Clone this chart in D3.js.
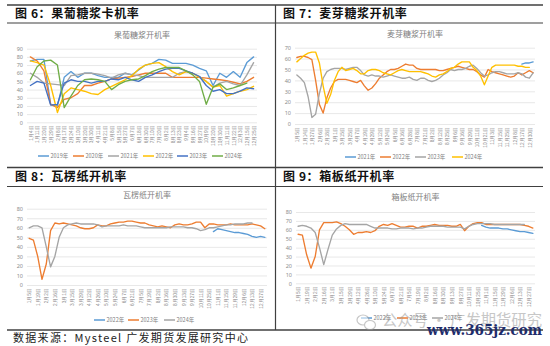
<!DOCTYPE html>
<html>
<head>
<meta charset="utf-8">
<script src="https://cdn.jsdelivr.net/npm/d3@7/dist/d3.min.js"></script>
<style>
  html, body { margin: 0; padding: 0; background: #fff; }
  svg { display: block; font-family: "Noto Sans CJK SC", "Noto Sans", sans-serif; }
</style>
</head>
<body>
<svg id="page" width="550" height="346"></svg>
<script>
// ---------- 果葡糖浆开机率 (%) ----------
const hfcsLabels = ["1月4日","1月11日","1月20日","1月29日","2月8日","2月17日","2月24日","3月10日","3月20日","3月30日","4月11日","4月21日","5月8日","5月15日","5月27日","6月7日","6月18日","6月30日","7月10日","7月20日","8月2日","8月13日","8月23日","9月4日","9月16日","9月27日","10月9日","10月20日","10月30日","11月11日","11月22日","12月3日","12月15日","12月25日"];
const hfcs2019 = [75,77,77,22,20,55,62,55,60,60,57,55,55,55,60,58,64,70,72,77,76,72,72,72,70,66,63,45,60,55,62,55,73,80];
const hfcs2020 = [80,75,63,22,18,28,30,35,45,45,48,50,53,54,55,56,58,60,60,60,60,55,55,55,55,55,54,53,52,51,49,47,50,55];
const hfcs2021 = [60,55,48,47,46,45,57,58,60,60,59,57,54,58,60,58,57,55,55,55,55,55,60,62,60,56,50,43,48,50,47,45,58,73];
const hfcs2022 = [75,73,70,45,12,35,42,40,38,35,34,40,44,48,52,57,65,70,72,73,68,62,58,62,60,55,50,43,45,32,35,38,40,44];
const hfcs2023 = [45,50,48,21,22,48,52,50,50,48,50,50,53,52,55,52,50,55,58,62,65,66,66,63,60,56,45,38,40,35,35,38,42,41];
const hfcs2024 = [52,68,75,76,70,18,32,45,52,53,52,50,40,46,50,52,53,57,62,65,67,67,67,63,58,50,22,43,47,40,42,45,48,null];
const hfcsTicks = [0,10,20,30,40,50,60,70,80,90];

// ---------- 麦芽糖浆开机率 (%) ----------
const maltoseLabels = ["1月5日","1月14日","1月27日","2月6日","2月18日","3月1日","3月15日","3月25日","4月7日","4月19日","4月29日","5月12日","5月24日","6月5日","6月16日","6月28日","7月8日","7月21日","8月2日","8月12日","8月25日","9月6日","9月16日","9月29日","10月11日","10月21日","11月3日","11月15日","11月25日","12月8日","12月17日","12月30日"];
const maltose2021 = [null,null,null,null,null,null,null,null,null,null,
  null,null,null,null,null,null,null,null,null,null,
  null,null,null,null,null,null,null,null,null,null,
  null,null,null,null,null,null,null,null,null,null,
  null,null,null,null,null,null,null,null,null,null,
  null,null,null,null,null,null,null,null,null,null,
  55,56,56,57];
const maltose2022 = [61,62,62,61,59,40,18,10,24,33, 39,41,41,41,40,39,38,40,35,31, 33,37,42,45,48,50,50,51,53,55, 54,54,51,50,50,50,50,50,49,49, 50,51,52,53,52,51,50,50,48,45, 43,50,48,47,46,45,44,43,44,47, 45,47,49,47];
const maltose2023 = [45,42,38,25,6,9,28,42,48,50, 51,51,51,50,51,52,52,49,45,44, 45,44,44,43,44,45,44,43,42,42, 43,41,40,42,42,40,39,40,42,45, 47,50,49,50,50,51,53,54,51,47, 44,45,47,48,48,47,46,46,46,47, 46,43,42,47];
const maltose2024 = [57,60,63,65,66,66,56,35,19,27, 40,48,52,49,50,51,49,46,46,49, 50,50,49,47,46,45,47,49,50,49, 48,48,48,48,47,46,44,43,45,46, 48,51,52,55,57,57,57,52,49,44, 36,44,52,54,54,54,54,54,54,53, 53,52,52,null];
const maltoseTicks = [0,10,20,30,40,50,60,70];

// ---------- 瓦楞纸 / 箱板纸开机率 (%) ----------
const paperLabels = ["1月5日","1月19日","2月2日","2月16日","3月1日","3月15日","3月29日","4月12日","4月26日","5月10日","5月24日","6月7日","6月21日","7月5日","7月19日","8月2日","8月16日","8月30日","9月13日","9月27日","10月11日","10月25日","11月1日","11月15日","11月29日","12月6日","12月13日","12月27日"];
const corrugated2022 = [null,null,null,null,null,null,null,null,null,null,
  null,null,null,null,null,null,null,null,null,null,
  null,null,null,null,null,null,null,null,null,null,
  null,null,null,null,null,null,null,null,null,null,
  null,null,null,
  56,59,58,57,56,55,55,54,53,51,50,51,50];
const corrugated2023 = [49,47,30,6,22,57,65,64,65,64, 63,62,60,59,59,60,63,62,62,64, 65,66,66,67,67,66,65,65,63,62, 61,62,61,60,63,64,63,63,64,66, 66,60,64,64,63,63,63,64,63,63, 63,63,64,63,62,59];
const corrugated2024 = [60,62,62,60,40,19,30,50,60,63, 64,65,64,64,64,64,63,61,62,62, 62,62,63,62,62,62,61,60,60,60, 60,60,60,61,61,61,61,60,60,59, 57,58,60,60,61,62,63,63,64,64, 64,65,65,null,null,null];
const board2022 = [null,null,null,null,null,null,null,null,null,null,
  null,null,null,null,null,null,null,null,null,null,
  null,null,null,null,null,null,null,null,null,null,
  null,null,null,null,null,null,null,null,null,null,
  null,null,null,
  65,63,62,62,62,61,61,60,59,58,58,57,56];
const board2023 = [55,54,32,17,30,60,68,68,68,69, 67,64,60,55,57,57,58,57,59,64, 66,65,67,65,63,63,64,64,62,64, 64,65,66,65,65,65,64,64,66,59, 64,67,68,68,66,66,66,66,66,66, 66,66,66,65,64,62];
const board2024 = [64,65,64,62,57,40,21,38,54,61, 65,67,66,66,66,66,66,64,62,62, 62,62,61,61,62,62,62,61,62,62, 63,64,64,64,64,63,63,63,63,61, 64,66,67,67,67,67,66,66,66,66, 66,66,66,66,null,null];
const paperTicks = [0,10,20,30,40,50,60,70,80];

const C = {
  blue: "#5B9BD5", orange: "#ED7D31", gray: "#A5A5A5",
  yellow: "#FFC000", navy: "#4472C4", green: "#70AD47"
};

const svg = d3.select("#page");
svg.append("rect").attr("width", 550).attr("height", 346).attr("fill", "#fff");

// panel frame rules
const frame = svg.append("g").attr("stroke", "#404040").attr("fill", "none");
[[5, 1.6], [23, 1.2], [167.5, 1.6], [186.5, 1.2], [330, 1.6]].forEach(([y, w]) => {
  frame.append("line").attr("x1", 7).attr("x2", 543).attr("y1", y).attr("y2", y).attr("stroke-width", w);
});
frame.append("line").attr("x1", 275.5).attr("x2", 275.5).attr("y1", 5).attr("y2", 330).attr("stroke-width", 1.2);

function drawPanel(cfg) {
  const g = svg.append("g");

  // figure heading
  g.append("text")
    .attr("x", cfg.headX).attr("y", cfg.headY)
    .attr("dominant-baseline", "middle")
    .attr("font-size", 12).attr("font-weight", 700)
    .attr("letter-spacing", 0.6)
    .attr("fill", "#111")
    .text(cfg.heading);

  // chart title
  g.append("text")
    .attr("x", (cfg.x0 + cfg.x1) / 2).attr("y", cfg.titleY)
    .attr("text-anchor", "middle").attr("dominant-baseline", "middle")
    .attr("font-size", 8).attr("fill", "#7f7f7f")
    .text(cfg.title);

  const n = cfg.series[0].values.length;
  const x = d3.scalePoint().domain(d3.range(n)).range([cfg.x0, cfg.x1]).padding(0.5);
  const y = d3.scaleLinear().domain([0, cfg.yMax]).range([cfg.yBottom, cfg.yTop]);

  // y axis with gridlines
  const yAxis = d3.axisLeft(y).tickValues(cfg.ticks).tickSize(-(cfg.x1 - cfg.x0)).tickPadding(4);
  const ya = g.append("g").attr("transform", `translate(${cfg.x0},0)`).call(yAxis);
  ya.select(".domain").remove();
  ya.selectAll(".tick line").attr("stroke", "#d9d9d9").attr("stroke-width", 0.6);
  ya.selectAll(".tick text").attr("font-size", 5.5).attr("fill", "#8c8c8c")
    .attr("font-family", "'Noto Sans', sans-serif");

  // x axis labels (every labelStep-th category)
  const step = cfg.labelStep;
  const xAxis = d3.axisBottom(x)
    .tickValues(d3.range(0, n, step))
    .tickFormat(i => cfg.labels[i / step])
    .tickSize(0);
  const xa = g.append("g").attr("transform", `translate(0,${cfg.yBottom})`).call(xAxis);
  xa.select(".domain").remove();
  xa.selectAll(".tick text")
    .attr("transform", "rotate(-90)")
    .attr("text-anchor", "end")
    .attr("x", -3).attr("y", 0).attr("dy", "0.35em")
    .attr("font-size", 4.8).attr("fill", "#8c8c8c");

  // series lines
  const line = d3.line()
    .defined(d => d != null)
    .x((d, i) => x(i))
    .y(d => y(d));
  cfg.series.forEach(s => {
    g.append("path")
      .datum(s.values)
      .attr("fill", "none")
      .attr("stroke", s.color)
      .attr("stroke-width", 1.35)
      .attr("stroke-linejoin", "round")
      .attr("stroke-linecap", "round")
      .attr("d", line);
  });

  // legend
  cfg.series.forEach((s, k) => {
    const lx = cfg.legendX[k];
    g.append("line")
      .attr("x1", lx).attr("x2", lx + 11)
      .attr("y1", cfg.legendY).attr("y2", cfg.legendY)
      .attr("stroke", s.color).attr("stroke-width", 1.5);
    g.append("text")
      .attr("x", lx + 12.5).attr("y", cfg.legendY)
      .attr("dominant-baseline", "middle")
      .attr("font-size", 5.5).attr("fill", "#7f7f7f")
      .text(s.name);
  });
}

drawPanel({
  heading: "图 6：果葡糖浆卡机率", headX: 15, headY: 15,
  title: "果葡糖浆开机率", titleY: 36,
  x0: 27, x1: 257, yTop: 48.7, yBottom: 122.3, yMax: 90, ticks: hfcsTicks,
  labels: hfcsLabels, labelStep: 1,
  legendY: 156, legendX: [38, 73, 108, 143, 177, 212],
  series: [
    { name: "2019年", values: hfcs2019, color: C.blue },
    { name: "2020年", values: hfcs2020, color: C.orange },
    { name: "2021年", values: hfcs2021, color: C.gray },
    { name: "2022年", values: hfcs2022, color: C.yellow },
    { name: "2023年", values: hfcs2023, color: C.navy },
    { name: "2024年", values: hfcs2024, color: C.green }
  ]
});

drawPanel({
  heading: "图 7：麦芽糖浆开机率", headX: 283, headY: 15,
  title: "麦芽糖浆开机率", titleY: 35,
  x0: 295, x1: 535, yTop: 47.7, yBottom: 124, yMax: 70, ticks: maltoseTicks,
  labels: maltoseLabels, labelStep: 2,
  legendY: 157, legendX: [345, 380, 415, 452],
  series: [
    { name: "2021年", values: maltose2021, color: C.blue },
    { name: "2022年", values: maltose2022, color: C.orange },
    { name: "2023年", values: maltose2023, color: C.gray },
    { name: "2024年", values: maltose2024, color: C.yellow }
  ]
});

drawPanel({
  heading: "图 8：瓦楞纸开机率", headX: 15, headY: 178,
  title: "瓦楞纸开机率", titleY: 196,
  x0: 27, x1: 267, yTop: 208.7, yBottom: 285, yMax: 80, ticks: paperTicks,
  labels: paperLabels, labelStep: 2,
  legendY: 320, legendX: [94, 128, 164],
  series: [
    { name: "2022年", values: corrugated2022, color: C.blue },
    { name: "2023年", values: corrugated2023, color: C.orange },
    { name: "2024年", values: corrugated2024, color: C.gray }
  ]
});

drawPanel({
  heading: "图 9：箱板纸开机率", headX: 283, headY: 178,
  title: "箱板纸开机率", titleY: 198,
  x0: 296, x1: 535, yTop: 212, yBottom: 283.3, yMax: 80, ticks: paperTicks,
  labels: paperLabels, labelStep: 2,
  legendY: 318, legendX: [361, 397, 432],
  series: [
    { name: "2022年", values: board2022, color: C.blue },
    { name: "2023年", values: board2023, color: C.orange },
    { name: "2024年", values: board2024, color: C.gray }
  ]
});

// source note
svg.append("text")
  .attr("x", 13).attr("y", 339)
  .attr("dominant-baseline", "middle")
  .attr("font-size", 11).attr("letter-spacing", 1.3)
  .attr("fill", "#222")
  .text("数据来源：Mysteel 广发期货发展研究中心");

// account watermark
const wm = svg.append("g").attr("opacity", 0.55);
wm.append("ellipse").attr("cx", 363).attr("cy", 320).attr("rx", 6).attr("ry", 5)
  .attr("fill", "#fff").attr("stroke", "#9a9a9a").attr("stroke-width", 1.2);
wm.append("ellipse").attr("cx", 370).attr("cy", 325).attr("rx", 5.5).attr("ry", 4.5)
  .attr("fill", "#fff").attr("stroke", "#9a9a9a").attr("stroke-width", 1.2);
wm.append("text")
  .attr("x", 382).attr("y", 322)
  .attr("dominant-baseline", "middle")
  .attr("font-size", 15.5).attr("fill", "#9a9a9a")
  .attr("textLength", 160).attr("lengthAdjust", "spacingAndGlyphs")
  .text("公众号 · 广发期货研究");

svg.append("text")
  .attr("x", 427).attr("y", 331)
  .attr("dominant-baseline", "middle")
  .attr("font-size", 15).attr("font-weight", 700)
  .attr("font-family", "'DejaVu Serif', serif")
  .attr("textLength", 115).attr("lengthAdjust", "spacingAndGlyphs")
  .attr("fill", "#1f2d6b")
  .text("www.365jz.com");
</script>
</body>
</html>
